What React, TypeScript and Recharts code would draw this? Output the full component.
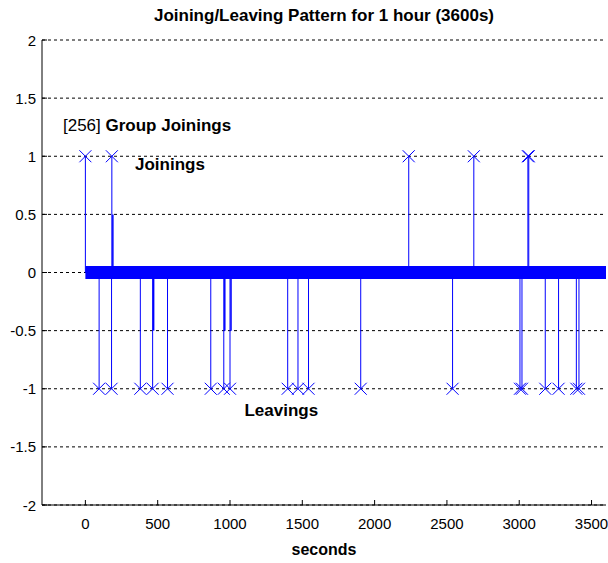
import React from 'react';
import {
  ComposedChart, XAxis, YAxis, CartesianGrid, Scatter, ReferenceLine, ReferenceDot
} from 'recharts';

// event times (seconds)
const joinTimes = [0, 183, 2236, 2686, 3060, 3066];
const halfJoinTimes = [190];
const leaveTimes = [95, 181, 380, 465, 568, 867, 957, 1000, 1399, 1470, 1543, 1904, 2539, 3005, 3019, 3180, 3272, 3395, 3413];
const halfLeaveTimes = [472, 964, 1007];

const xTicks = [0, 500, 1000, 1500, 2000, 2500, 3000, 3500];
const yTicks = [-2, -1.5, -1, -0.5, 0, 0.5, 1, 1.5, 2];

const BLUE = '#0000ff';
const FONT = '"Liberation Sans", Arial, sans-serif';
const TICK_FS = 15;
const BOLD_FS = 17;

const joinPoints = joinTimes.map(t => ({ x: t, y: 1 }));
const leavePoints = leaveTimes.map(t => ({ x: t, y: -1 }));

const XMark = (p: any) => {
  const { cx, cy } = p;
  const s = 6;
  return (
    <path
      d={`M${cx - s},${cy - s}L${cx + s},${cy + s}M${cx - s},${cy + s}L${cx + s},${cy - s}`}
      stroke={BLUE} strokeWidth={1} fill="none"
    />
  );
};

const LeftTick = (p: any) => {
  const { x, y, payload } = p;
  return (
    <g>
      <text x={x} y={y} textAnchor="end" dominantBaseline="central" fontSize={TICK_FS} fontFamily={FONT} fill="#000">
        {payload.value}
      </text>
      <line x1={x + 6} x2={x + 11} y1={y} y2={y} stroke="#000" />
    </g>
  );
};

const RightTick = (p: any) => {
  const { x, y } = p;
  return <line x1={x - 5} x2={x} y1={y} y2={y} stroke="#000" />;
};

const BottomTick = (p: any) => {
  const { x, y, payload } = p;
  return (
    <g>
      <text x={x} y={y + 6} textAnchor="middle" dominantBaseline="central" fontSize={TICK_FS} fontFamily={FONT} fill="#000">
        {payload.value}
      </text>
      <line x1={x} x2={x} y1={y - 12} y2={y - 17} stroke="#000" />
    </g>
  );
};

const TopTick = (p: any) => {
  const { x, y } = p;
  return <line x1={x} x2={x} y1={y} y2={y + 5} stroke="#000" />;
};

const label = (parts: { t: string; bold: boolean }[]) => (p: any) => (
  <text x={p.cx} y={p.cy} dominantBaseline="central" fontSize={BOLD_FS} fontFamily={FONT} fill="#000">
    {parts.map((q, i) => (
      <tspan key={i} fontWeight={q.bold ? 'bold' : 'normal'}>{q.t}</tspan>
    ))}
  </text>
);

export default function App() {
  return (
    <div style={{ position: 'absolute', left: 0, top: 0, width: 608, height: 563, background: '#fff', fontFamily: FONT }}>
      <div style={{ position: 'absolute', left: 42, width: 564, top: 6, textAlign: 'center', fontSize: BOLD_FS, fontWeight: 'bold', lineHeight: '20px' }}>
        Joining/Leaving Pattern for 1 hour (3600s)
      </div>
      <div style={{ position: 'absolute', left: 42, width: 564, top: 540, textAlign: 'center', fontSize: BOLD_FS - 1, fontWeight: 'bold', lineHeight: '20px' }}>
        seconds
      </div>
      <ComposedChart width={608} height={563} margin={{ top: 40, right: 2, bottom: 0, left: 0 }}>
        <CartesianGrid horizontal vertical={false} stroke="#000" strokeDasharray="3 3" />
        <XAxis
          xAxisId={0} dataKey="x" type="number" domain={[-300, 3600]} ticks={xTicks}
          allowDataOverflow height={58} tickSize={0} tickMargin={12}
          axisLine={{ stroke: '#000' }} tick={<BottomTick />} interval={0}
        />
        <XAxis
          xAxisId="t" orientation="top" type="number" domain={[-300, 3600]} ticks={xTicks}
          allowDataOverflow height={0} tickSize={0} tickMargin={0}
          axisLine={{ stroke: '#000' }} tick={<TopTick />} interval={0}
        />
        <YAxis
          yAxisId={0} type="number" domain={[-2, 2]} ticks={yTicks} allowDataOverflow
          width={42} tickSize={0} tickMargin={6} axisLine={{ stroke: '#000' }}
          tick={<LeftTick />} interval={0}
        />
        <YAxis
          yAxisId="r" orientation="right" type="number" domain={[-2, 2]} ticks={yTicks} allowDataOverflow
          width={0} tickSize={0} tickMargin={0} axisLine={{ stroke: '#000' }}
          tick={<RightTick />} interval={0}
        />

        {/* the 3600 zero samples merge into one thick band */}
        <ReferenceLine segment={[{ x: 0, y: 0 }, { x: 3600, y: 0 }]} stroke={BLUE} strokeWidth={13} ifOverflow="visible" />

        {joinTimes.map(t => (
          <ReferenceLine key={'j' + t} segment={[{ x: t, y: 0 }, { x: t, y: 1 }]} stroke={BLUE} strokeWidth={1} ifOverflow="visible" />
        ))}
        {halfJoinTimes.map(t => (
          <ReferenceLine key={'hj' + t} segment={[{ x: t, y: 0 }, { x: t, y: 0.5 }]} stroke={BLUE} strokeWidth={1.5} ifOverflow="visible" />
        ))}
        {leaveTimes.map(t => (
          <ReferenceLine key={'l' + t} segment={[{ x: t, y: 0 }, { x: t, y: -1 }]} stroke={BLUE} strokeWidth={1} ifOverflow="visible" />
        ))}
        {halfLeaveTimes.map(t => (
          <ReferenceLine key={'hl' + t} segment={[{ x: t, y: 0 }, { x: t, y: -0.5 }]} stroke={BLUE} strokeWidth={1.5} ifOverflow="visible" />
        ))}

        <Scatter data={joinPoints} dataKey="y" shape={<XMark />} isAnimationActive={false} />
        <Scatter data={leavePoints} dataKey="y" shape={<XMark />} isAnimationActive={false} />

        <ReferenceDot x={-155} y={1.27} r={0} ifOverflow="visible"
          shape={label([{ t: '[256] ', bold: false }, { t: 'Group Joinings', bold: true }])} />
        <ReferenceDot x={343} y={0.93} r={0} ifOverflow="visible"
          shape={label([{ t: 'Joinings', bold: true }])} />
        <ReferenceDot x={1100} y={-1.18} r={0} ifOverflow="visible"
          shape={label([{ t: 'Leavings', bold: true }])} />
      </ComposedChart>
    </div>
  );
}
